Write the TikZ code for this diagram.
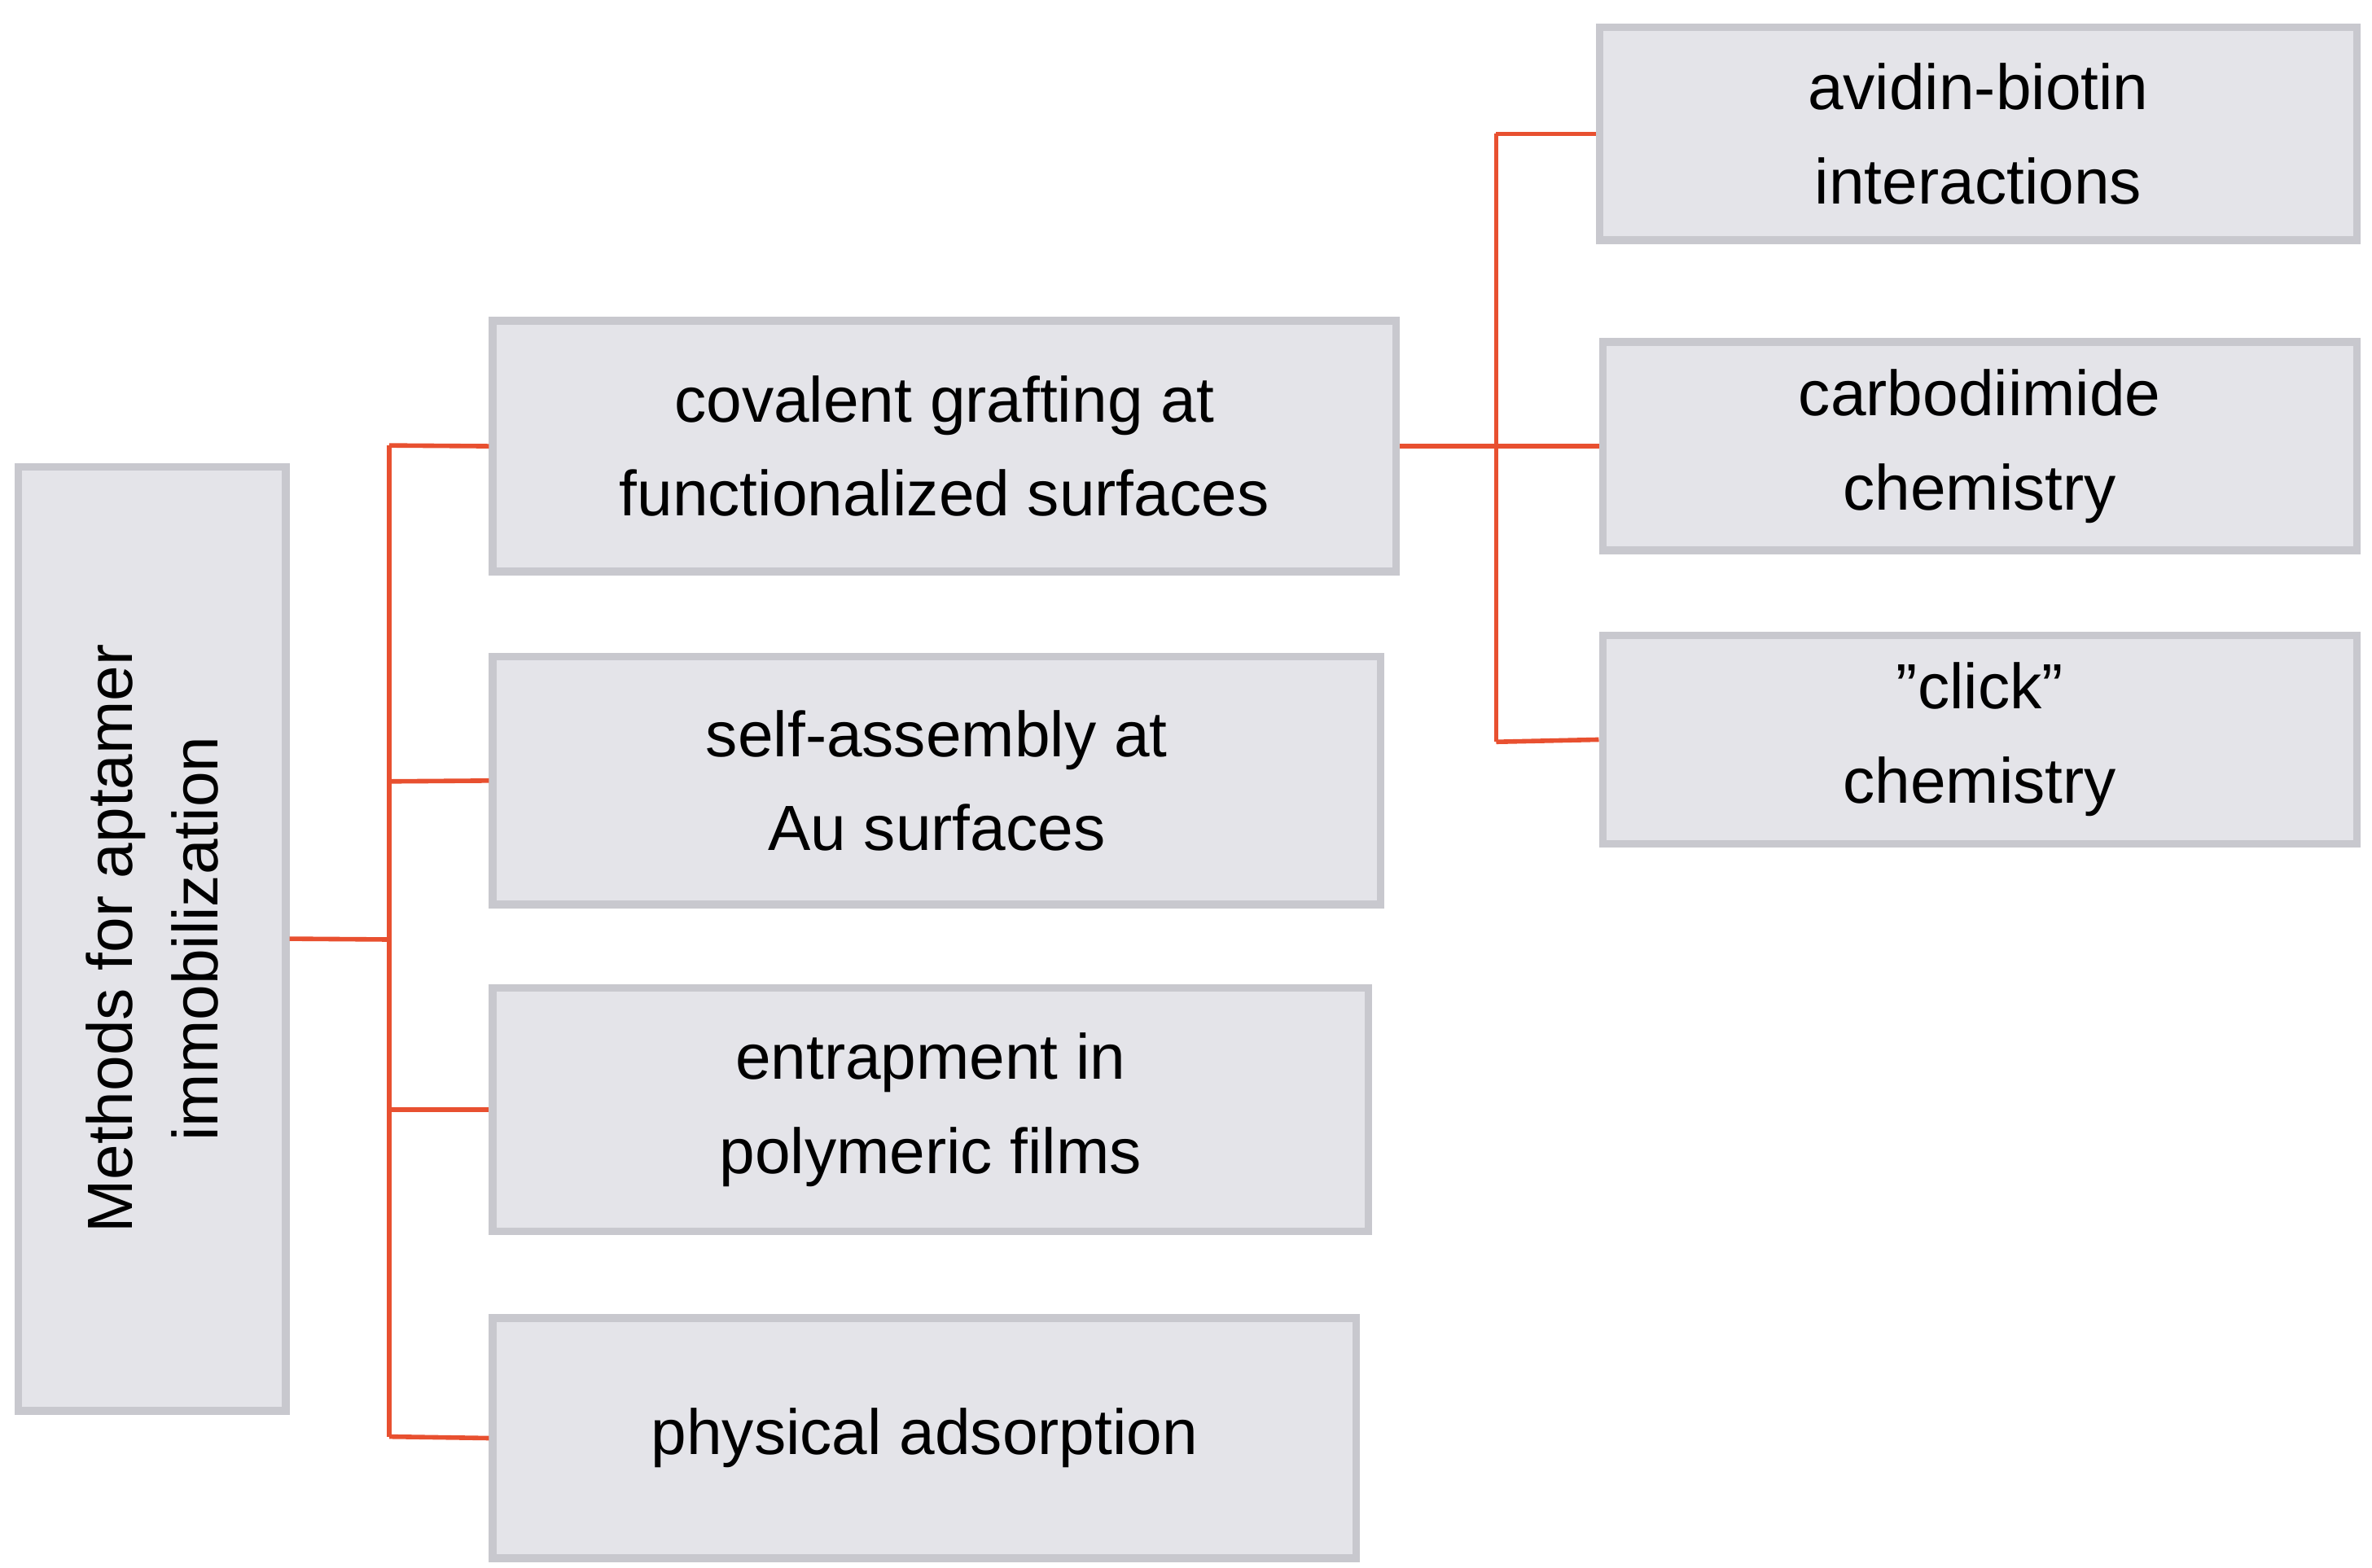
\documentclass[tikz,border=0pt]{standalone}
\usepackage{fontspec}
\setmainfont{Liberation Sans}
\definecolor{boxfill}{RGB}{228,228,233}
\definecolor{boxedge}{RGB}{200,200,206}
\definecolor{linkred}{RGB}{232,80,48}
\begin{document}
\begin{tikzpicture}[x=1pt,y=-1pt,
  bx/.style={draw=boxedge,line width=5pt,fill=boxfill,inner sep=0pt,align=center,
    font=\fontsize{42}{62}\selectfont},
  lk/.style={draw=linkred,line width=3pt}]
\useasboundingbox (0,0) rectangle (1560,1031);
\newcommand{\bxat}[6]{\node[bx,minimum width={#4-#2},minimum height={#5-#3}] (#1) at ({(#2+#4)/2},{(#3+#5)/2}) {#6};}
\bxat{cov}{324}{211}{918}{376}{covalent grafting at\\functionalized surfaces}
\bxat{self}{324}{432}{908}{595}{self-assembly at\\Au surfaces}
\bxat{ent}{324}{650}{900}{810}{entrapment in\\polymeric films}
\bxat{phy}{324}{867}{892}{1025}{physical adsorption}
\bxat{avi}{1052}{18}{1550}{158}{avidin-biotin\\interactions}
\bxat{carb}{1054}{225}{1550}{362}{carbodiimide\\chemistry}
\bxat{click}{1054}{418}{1550}{555}{"click"\\chemistry}
\node[bx,minimum width=176,minimum height=621] (main) at (100,617.5) {};
\node[rotate=90,align=center,font=\fontsize{42}{56}\selectfont] (mt) at (main.center) {Methods for aptamer\\immobilization};
\coordinate (j1) at (256,618);
\coordinate (j2) at (984,293);
\draw[lk] (main.east) -- (j1);
\draw[lk] (256,293) -- (256,945);
\draw[lk] (256,293) -- (cov.west);
\draw[lk] (256,514) -- (self.west);
\draw[lk] (256,730) -- (ent.west);
\draw[lk] (256,945) -- (phy.west);
\draw[lk] (cov.east) -- (carb.west);
\draw[lk] (984,88) -- (984,488);
\draw[lk] (984,88) -- (avi.west);
\draw[lk] (984,488) -- (click.west);
\end{tikzpicture}
\end{document}
